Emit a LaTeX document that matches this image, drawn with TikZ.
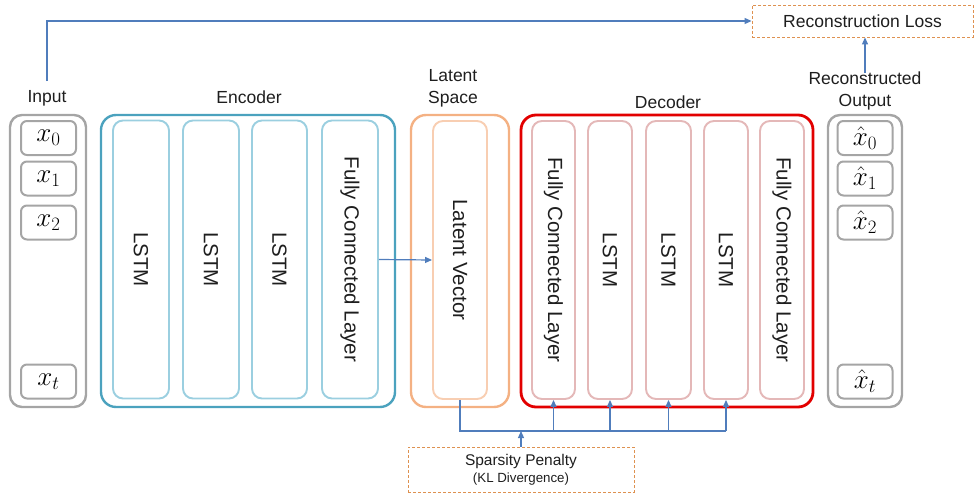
\RequirePackage{fix-cm}
\documentclass[tikz,border=0pt]{standalone}
\usepackage{fontspec}
\setmainfont{Liberation Sans}
\usetikzlibrary{arrows.meta}
\definecolor{cgrey}{RGB}{165,165,165}
\definecolor{encout}{RGB}{75,162,190}
\definecolor{encin}{RGB}{155,207,224}
\definecolor{latout}{RGB}{244,177,131}
\definecolor{latin}{RGB}{248,206,178}
\definecolor{decout}{RGB}{226,0,0}
\definecolor{decin}{RGB}{228,184,184}
\definecolor{arrowc}{RGB}{80,125,188}
\definecolor{dashc}{RGB}{222,145,80}
\definecolor{txt}{RGB}{30,30,30}
\tikzset{
  outerbox/.style={draw, line width=2.4pt, rounded corners=15pt, inner sep=0pt},
  layerbox/.style={draw, line width=1.9pt, rounded corners=10pt, inner sep=0pt, minimum height=278pt},
  vecbox/.style={draw=cgrey, line width=2pt, rounded corners=6pt, inner sep=0pt, minimum width=55pt, minimum height=34pt, font=\fontsize{27}{29}\selectfont},
  lbl/.style={font=\fontsize{17.5}{22}\selectfont, inner sep=1pt, align=center, text=txt},
  rlbl/.style={font=\fontsize{20.5}{24}\selectfont, rotate=-90, text=txt},
  dbox/.style={draw=dashc, dashed, dash pattern=on 3pt off 2pt, line width=0.9pt, inner sep=0pt, text=txt},
  conn/.style={draw=arrowc, line width=1.2pt},
  arr/.style={conn, -{Triangle[length=7pt,width=6pt]}},
}
\begin{document}
\begin{tikzpicture}[x=1pt,y=-1pt]
\useasboundingbox (0,0) rectangle (974,495);
% Input
\node[outerbox, draw=cgrey, rounded corners=12pt, minimum width=76pt, minimum height=292pt] (inbox) at (48,261) {};
\node[vecbox] (x0) at (48.5,138) {$x_0$};
\node[vecbox] (x1) at (48.5,178.5) {$x_1$};
\node[vecbox] (x2) at (48.5,222.5) {$x_2$};
\node[vecbox] (xt) at (48.5,381.5) {$x_t$};
\node[lbl] (inlabel) at (47,98) {Input};
% Encoder
\node[outerbox, draw=encout, minimum width=294pt, minimum height=292pt] (enc) at (248,261) {};
\node[lbl] (enclabel) at (249,97) {Encoder};
\node[layerbox, draw=encin, minimum width=56pt] (e1) at (141,259.5) {};
\node[layerbox, draw=encin, minimum width=56pt] (e2) at (211,259.5) {};
\node[layerbox, draw=encin, minimum width=55pt] (e3) at (279.5,259.5) {};
\node[layerbox, draw=encin, minimum width=56pt] (e4) at (350,259.5) {};
\node[rlbl] at (e1) {LSTM};
\node[rlbl] at (e2) {LSTM};
\node[rlbl] at (e3) {LSTM};
\node[rlbl] at (e4) {Fully Connected Layer};
% Latent
\node[outerbox, draw=latout, minimum width=98pt, minimum height=292pt] (lat) at (460,261) {};
\node[layerbox, draw=latin, minimum width=54pt] (lv) at (460,260) {};
\node[rlbl] at (lv) {Latent Vector};
\node[lbl] (latlabel) at (453,88) {Latent\\Space};
% Decoder
\node[outerbox, draw=decout, line width=2.8pt, minimum width=292pt, minimum height=292pt] (dec) at (667,261) {};
\node[lbl] (declabel) at (668,102) {Decoder};
\node[layerbox, draw=decin, minimum width=43pt] (d1) at (553.5,260) {};
\node[layerbox, draw=decin, minimum width=44pt] (d2) at (610,260) {};
\node[layerbox, draw=decin, minimum width=45pt] (d3) at (668.5,260) {};
\node[layerbox, draw=decin, minimum width=44pt] (d4) at (726,260) {};
\node[layerbox, draw=decin, minimum width=44pt] (d5) at (782,260) {};
\node[rlbl] at (d1) {Fully Connected Layer};
\node[rlbl] at (d2) {LSTM};
\node[rlbl] at (d3) {LSTM};
\node[rlbl] at (d4) {LSTM};
\node[rlbl] at (d5) {Fully Connected Layer};
% Output
\node[outerbox, draw=cgrey, rounded corners=12pt, minimum width=74pt, minimum height=292pt] (outbox) at (865,261) {};
\node[vecbox] (y0) at (865,138) {$\hat{x}_0$};
\node[vecbox] (y1) at (865,178.5) {$\hat{x}_1$};
\node[vecbox] (y2) at (865,222.5) {$\hat{x}_2$};
\node[vecbox] (yt) at (865,381.5) {$\hat{x}_t$};
\node[lbl] (outlabel) at (865,91) {Reconstructed\\Output};
% Loss boxes
\node[dbox, minimum width=221pt, minimum height=32pt, font=\fontsize{17.5}{20}\selectfont] (loss) at (862.5,21) {Reconstruction Loss};
\node[dbox, minimum width=226pt, minimum height=45pt, align=center] (sparse) at (521,469.5) {\fontsize{15.5}{19}\selectfont Sparsity Penalty\\[3pt]\fontsize{13.3}{16}\selectfont (KL Divergence)};
% Connectors
\coordinate (topstart) at (47,81);
\draw[arr] (topstart) |- (loss.west);
\draw[arr] ([yshift=-2pt]outlabel.north) -- (outlabel.north |- loss.south);
\draw[arr] (e4.east) -- (lv.west);
\coordinate (bl) at (lv.south |- 0,431);
\coordinate (br) at (d4.south |- 0,431);
\draw[conn] (lv.south) -- (bl) -- (br);
\draw[arr] (d1.south |- bl) -- (d1.south);
\draw[arr] (d2.south |- bl) -- (d2.south);
\draw[arr] (d3.south |- bl) -- (d3.south);
\draw[arr] (br) -- (d4.south);
\draw[arr] (sparse.north) -- (sparse.north |- bl);
\end{tikzpicture}
\end{document}
